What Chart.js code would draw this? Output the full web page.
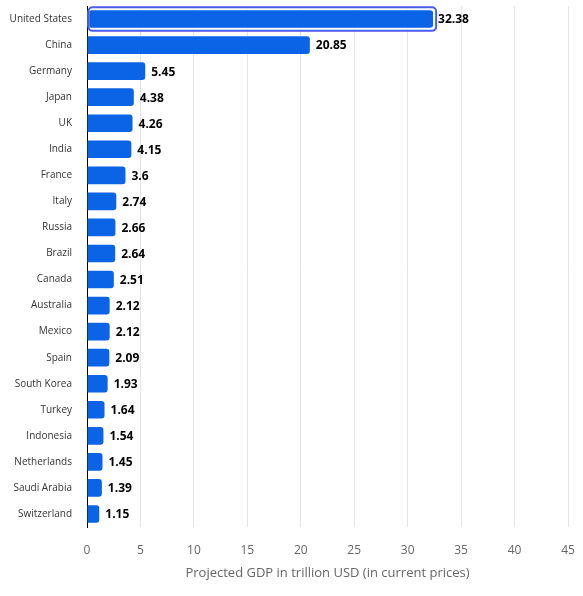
<!DOCTYPE html>
<html>
<head>
<meta charset="utf-8">
<script src="https://cdn.jsdelivr.net/npm/chart.js@4.4.1/dist/chart.umd.min.js"></script>
<style>
  html, body { margin: 0; padding: 0; background: #fff; }
  #wrap { width: 583px; height: 596px; }
</style>
</head>
<body>
<div id="wrap"><canvas id="gdpChart"></canvas></div>
<script>
const countries = ["United States", "China", "Germany", "Japan", "UK", "India", "France", "Italy",
  "Russia", "Brazil", "Canada", "Australia", "Mexico", "Spain", "South Korea", "Turkey",
  "Indonesia", "Netherlands", "Saudi Arabia", "Switzerland"];
const gdpValues = [32.38, 20.85, 5.45, 4.38, 4.26, 4.15, 3.6, 2.74, 2.66, 2.64, 2.51, 2.12, 2.12,
  2.09, 1.93, 1.64, 1.54, 1.45, 1.39, 1.15];
const xTicks = [0, 5, 10, 15, 20, 25, 30, 35, 40, 45];
const axisTitle = "Projected GDP in trillion USD (in current prices)";

const barBlue = "#0b63e5";

// value labels at the end of each bar
const valueLabels = {
  id: "valueLabels",
  afterDatasetsDraw(chart) {
    const ctx = chart.ctx;
    const meta = chart.getDatasetMeta(0);
    ctx.save();
    ctx.font = "bold 12px 'Open Sans'";
    ctx.fillStyle = "#000";
    ctx.textBaseline = "middle";
    ctx.textAlign = "left";
    meta.data.forEach((bar, i) => {
      const extra = i === 0 ? 5 : 6;
      ctx.fillText(String(gdpValues[i]), bar.x + extra, bar.y + 1);
    });
    ctx.restore();
  }
};

// highlight ring around the first bar
const highlight = {
  id: "highlight",
  afterDatasetsDraw(chart) {
    const ctx = chart.ctx;
    const bar = chart.getDatasetMeta(0).data[0];
    const h = bar.height;
    ctx.save();
    ctx.lineJoin = "round";
    ctx.strokeStyle = "#fff";
    ctx.lineWidth = 1.5;
    ctx.beginPath();
    ctx.roundRect(bar.base + 1, bar.y - h / 2 - 1, bar.x - bar.base, h + 2, 3);
    ctx.stroke();
    ctx.strokeStyle = "#4a5cf2";
    ctx.lineWidth = 2;
    ctx.beginPath();
    ctx.roundRect(bar.base + 1, bar.y - h / 2 - 3, bar.x - bar.base + 2, h + 6, 4);
    ctx.stroke();
    ctx.restore();
  }
};

new Chart(document.getElementById("gdpChart"), {
  type: "bar",
  data: {
    labels: countries,
    datasets: [{
      data: gdpValues,
      backgroundColor: barBlue,
      borderRadius: 3,
      borderSkipped: "start",
      barPercentage: 0.73,
      categoryPercentage: 0.93
    }]
  },
  options: {
    indexAxis: "y",
    responsive: true,
    maintainAspectRatio: false,
    animation: false,
    layout: { padding: { top: 6, right: 15, left: 0, bottom: 15 } },
    plugins: { legend: { display: false }, tooltip: { enabled: false } },
    scales: {
      x: {
        min: 0,
        max: 45,
        afterBuildTicks(axis) { axis.ticks = xTicks.map(v => ({ value: v })); },
        grid: { color: "#e4e4e4", drawTicks: true, tickLength: 16, tickColor: "rgba(0,0,0,0)" },
        border: { display: false },
        ticks: { color: "#666", padding: 0, font: { family: "Open Sans", size: 12 } },
        title: {
          display: true,
          text: axisTitle,
          color: "#666",
          padding: { top: 8, bottom: 0 },
          font: { family: "Open Sans", size: 13 }
        }
      },
      y: {
        afterFit(axis) { axis.width = 87; },
        grid: { display: true, drawOnChartArea: false, drawTicks: true, tickLength: 15, tickColor: "rgba(0,0,0,0)" },
        border: { display: true, color: "#000", width: 1 },
        ticks: { color: "#333", padding: 0, font: { family: "Open Sans", size: 10 } }
      }
    }
  },
  plugins: [valueLabels, highlight]
});
</script>
</body>
</html>
